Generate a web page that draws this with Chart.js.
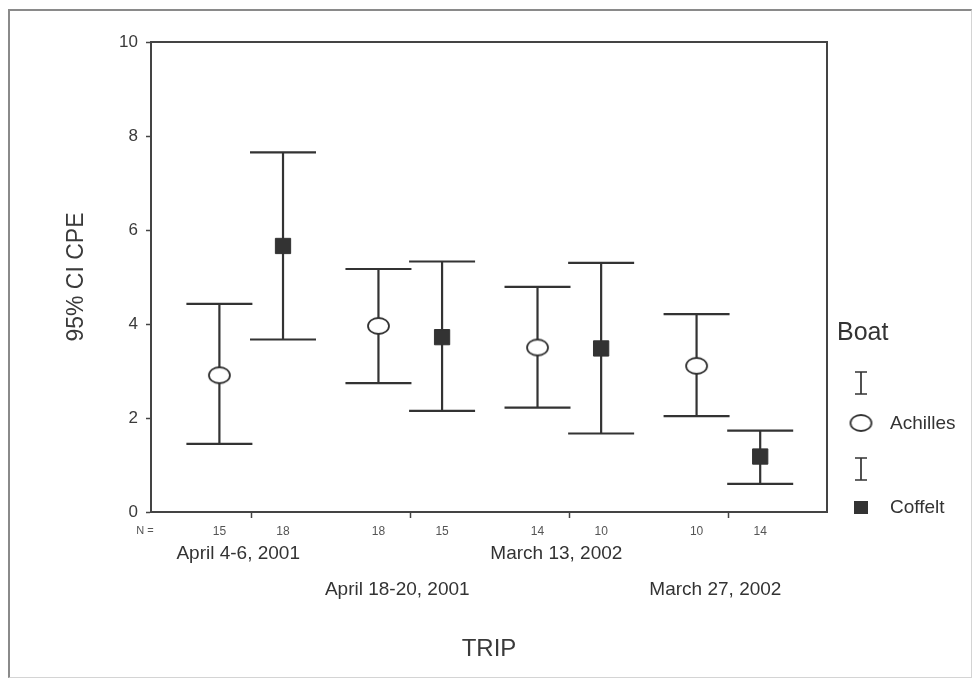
<!DOCTYPE html>
<html>
<head>
<meta charset="utf-8">
<title>95% CI CPE by trip</title>
<script src="https://cdn.jsdelivr.net/npm/chart.js@4.4.1/dist/chart.umd.min.js"></script>
<style>
    html, body { margin: 0; padding: 0; background: #fff; }
    #wrap { position: relative; width: 973px; height: 680px; }
    #frame {
        position: absolute; left: 8px; top: 9px; width: 961px; height: 666px;
        border-left: 2px solid #8a8a8a; border-top: 2px solid #8a8a8a;
        border-right: 1px solid #d4d4d4; border-bottom: 1px solid #d4d4d4;
        pointer-events: none;
    }
</style>
</head>
<body>
<div id="wrap">
    <canvas id="chart" width="973" height="680"></canvas>
    <div id="frame"></div>
</div>
<script>
// Values
const trips = ["April 4-6, 2001", "April 18-20, 2001", "March 13, 2002", "March 27, 2002"];
const achillesMean = [2.91, 3.96, 3.50, 3.11];
const achillesLow = [1.45, 2.74, 2.22, 2.04];
const achillesHigh = [4.43, 5.17, 4.79, 4.21];
const coffeltMean = [5.66, 3.72, 3.48, 1.18];
const coffeltLow = [3.67, 2.15, 1.67, 0.60];
const coffeltHigh = [7.65, 5.33, 5.30, 1.73];
const achillesN = [15, 18, 14, 10];
const coffeltN = [18, 15, 10, 14];
const yTicks = [0, 2, 4, 6, 8, 10];

const FONT = "'Liberation Sans', Arial, sans-serif";
const INK = "#333";
const SHIFT = 0.2; // each boat sits a little left/right of the trip position

// open ellipse used for Achilles (the scan draws it slightly squashed)
function makeEllipse() {
    const c = document.createElement("canvas");
    c.width = 25;
    c.height = 20;
    const g = c.getContext("2d");
    g.beginPath();
    g.ellipse(12.5, 10, 10.5, 8, 0, 0, Math.PI * 2);
    g.fillStyle = "#fff";
    g.fill();
    g.lineWidth = 1.8;
    g.strokeStyle = INK;
    g.stroke();
    return c;
}
const ellipse = makeEllipse();

const achillesPts = trips.map((t, i) => ({
    x: i + 1 - SHIFT, y: achillesMean[i], lo: achillesLow[i], hi: achillesHigh[i],
}));
const coffeltPts = trips.map((t, i) => ({
    x: i + 1 + SHIFT, y: coffeltMean[i], lo: coffeltLow[i], hi: coffeltHigh[i],
}));

// N tick positions: two per trip plus the trip centre (which only gets a tick mark)
const nTickValues = [];
const nTickLabels = [];
trips.forEach((t, i) => {
    nTickValues.push(i + 1 - SHIFT, i + 1, i + 1 + SHIFT);
    nTickLabels.push(String(achillesN[i]), "", String(coffeltN[i]));
});

const errorBars = {
    id: "errorBars",
    beforeDatasetsDraw(chart) {
        const { ctx, scales } = chart;
        const half = 33;
        ctx.save();
        ctx.strokeStyle = INK;
        ctx.lineWidth = 2.2;
        chart.data.datasets.forEach((ds) => {
            ds.data.forEach((p) => {
                const x = scales.x.getPixelForValue(p.x);
                const yLo = scales.y.getPixelForValue(p.lo);
                const yHi = scales.y.getPixelForValue(p.hi);
                ctx.beginPath();
                ctx.moveTo(x, yLo);
                ctx.lineTo(x, yHi);
                ctx.moveTo(x - half, yLo);
                ctx.lineTo(x + half, yLo);
                ctx.moveTo(x - half, yHi);
                ctx.lineTo(x + half, yHi);
                ctx.stroke();
            });
        });
        ctx.restore();
    },
    afterDraw(chart) {
        const { ctx, chartArea } = chart;
        ctx.save();
        // plot box
        ctx.strokeStyle = "#444";
        ctx.lineWidth = 2;
        ctx.strokeRect(chartArea.left, chartArea.top, chartArea.width, chartArea.height);

        // "N =" in front of the counts
        ctx.fillStyle = "#555";
        ctx.font = "11px " + FONT;
        ctx.textAlign = "center";
        ctx.textBaseline = "middle";
        ctx.fillText("N =", chartArea.left - 6, chartArea.bottom + 19);

        // legend
        const lx = chartArea.right + 34;
        ctx.fillStyle = "#333";
        ctx.font = "25px " + FONT;
        ctx.textAlign = "left";
        ctx.fillText("Boat", chartArea.right + 10, 333);

        const drawBeam = (cy) => {
            ctx.strokeStyle = INK;
            ctx.lineWidth = 1.7;
            ctx.beginPath();
            ctx.moveTo(lx, cy - 11);
            ctx.lineTo(lx, cy + 11);
            ctx.moveTo(lx - 6, cy - 11);
            ctx.lineTo(lx + 6, cy - 11);
            ctx.moveTo(lx - 6, cy + 11);
            ctx.lineTo(lx + 6, cy + 11);
            ctx.stroke();
        };
        ctx.font = "19px " + FONT;
        ctx.fillStyle = "#333";
        drawBeam(383);
        ctx.drawImage(ellipse, lx - 12.5, 423 - 10);
        ctx.fillText(chart.data.datasets[0].label, lx + 29, 424);
        drawBeam(469);
        ctx.fillStyle = "#333";
        ctx.fillRect(lx - 7, 507 - 6, 14, 13);
        ctx.fillText(chart.data.datasets[1].label, lx + 29, 508);
        ctx.restore();
    },
};

new Chart(document.getElementById("chart"), {
    type: "scatter",
    data: {
        datasets: [
            {
                label: "Achilles",
                data: achillesPts,
                pointStyle: ellipse,
                pointRadius: 10,
            },
            {
                label: "Coffelt",
                data: coffeltPts,
                pointStyle: "rect",
                pointRadius: 10.8,
                backgroundColor: "#333",
                borderColor: "#333",
                borderWidth: 1,
            },
        ],
    },
    options: {
        responsive: false,
        animation: false,
        layout: { padding: { top: 42, right: 146, bottom: 0, left: 0 } },
        plugins: {
            legend: { display: false },
            tooltip: { enabled: false },
        },
        scales: {
            y: {
                min: 0,
                max: 10,
                afterBuildTicks: (scale) => {
                    scale.ticks = yTicks.map((v) => ({ value: v }));
                },
                afterFit: (scale) => {
                    scale.width = 151;
                },
                border: { display: true, color: "#444", width: 2 },
                grid: { drawOnChartArea: false, tickLength: 5, tickColor: "#444", tickWidth: 1.5 },
                ticks: { color: "#3a3a3a", padding: 8, font: { family: FONT, size: 17 } },
                title: {
                    display: true,
                    text: "95% CI CPE",
                    color: "#3a3a3a",
                    font: { family: FONT, size: 23 },
                    padding: { top: 63, bottom: 0 },
                },
            },
            x: {
                type: "linear",
                position: "bottom",
                weight: 0,
                min: 0.37,
                max: 4.62,
                afterBuildTicks: (scale) => {
                    scale.ticks = nTickValues.map((v) => ({ value: v }));
                },
                afterFit: (scale) => {
                    scale.height = 24;
                },
                border: { display: true, color: "#444", width: 2 },
                grid: {
                    drawOnChartArea: false,
                    tickLength: 6,
                    tickWidth: 1.5,
                    tickColor: (c) => (c.tick && Number.isInteger(c.tick.value) ? "#444" : "rgba(0,0,0,0)"),
                },
                ticks: {
                    autoSkip: false,
                    maxRotation: 0,
                    padding: 6,
                    color: "#555",
                    font: { family: FONT, size: 12 },
                    callback: (value, index) => nTickLabels[index],
                },
            },
            trip: {
                type: "linear",
                position: "bottom",
                weight: 1,
                min: 0.37,
                max: 4.62,
                afterBuildTicks: (scale) => {
                    scale.ticks = trips.map((t, i) => ({ value: i + 1 }));
                },
                afterFit: (scale) => {
                    scale.height = 144;
                },
                border: { display: false },
                grid: { display: false, drawTicks: false },
                ticks: {
                    autoSkip: false,
                    maxRotation: 0,
                    padding: 0,
                    labelOffset: -13,
                    color: "#333",
                    font: { family: FONT, size: 19, lineHeight: 36 / 19 },
                    // alternate trips drop to a second row so they don't collide
                    callback: (value, index) => (index % 2 === 0 ? [trips[index], ""] : ["", trips[index]]),
                },
                title: {
                    display: true,
                    text: "TRIP",
                    color: "#3a3a3a",
                    font: { family: FONT, size: 24 },
                    padding: { top: 0, bottom: 16 },
                },
            },
        },
    },
    plugins: [errorBars],
});
</script>
</body>
</html>
